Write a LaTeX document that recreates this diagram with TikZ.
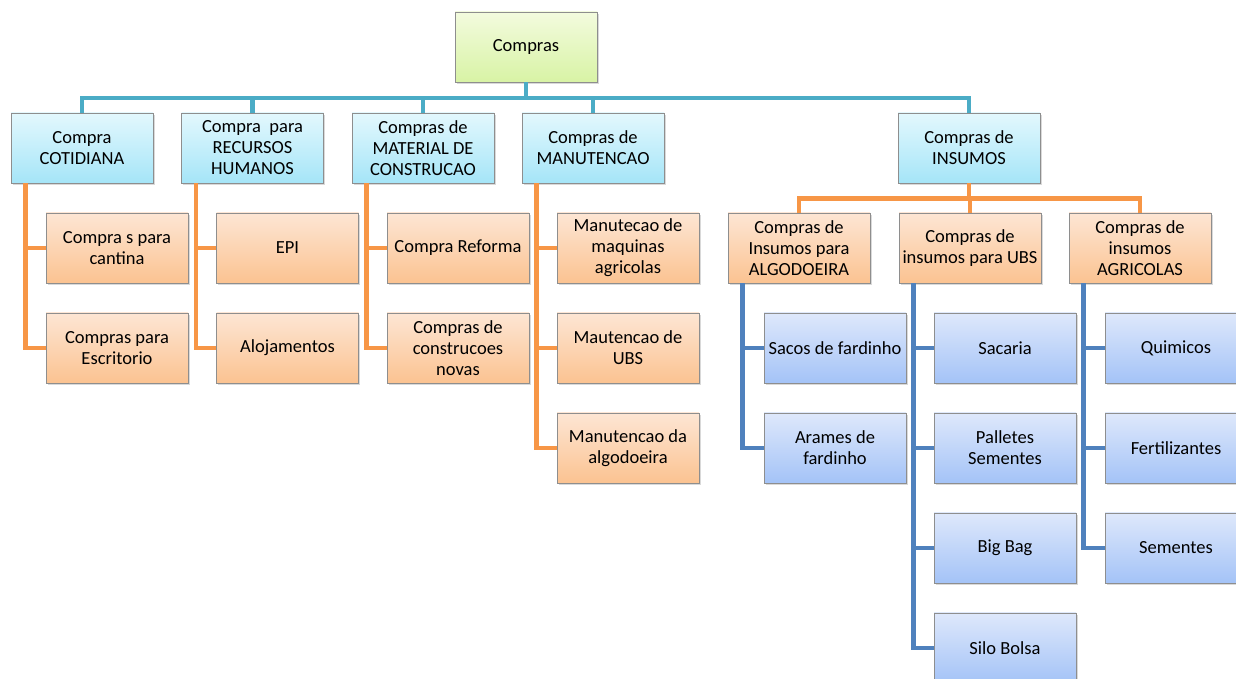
\documentclass[tikz,border=0pt]{standalone}
\usepackage{fontspec}
\setmainfont{Carlito}
\usetikzlibrary{shadows}

\definecolor{boxline}{HTML}{8E8E8E}
\definecolor{tealline}{HTML}{4BACC6}
\definecolor{orgline}{HTML}{F79646}
\definecolor{blueline}{HTML}{4F81BD}

\tikzstyle{box} = [rectangle, minimum width=142pt, minimum height=70pt, inner sep=2pt, align=center, draw=boxline, line width=0.9pt, font=\fontsize{18.5}{21}\selectfont, drop shadow={shadow xshift=1.5pt, shadow yshift=-2pt, opacity=0.3}]
\tikzstyle{root} = [box, top color={rgb,255:red,243;green,251;blue,222}, bottom color={rgb,255:red,216;green,243;blue,165}]
\tikzstyle{head} = [box, top color={rgb,255:red,227;green,248;blue,253}, bottom color={rgb,255:red,165;green,229;blue,248}]
\tikzstyle{sub} = [box, top color={rgb,255:red,253;green,230;blue,212}, bottom color={rgb,255:red,251;green,195;blue,145}]
\tikzstyle{leaf} = [box, top color={rgb,255:red,222;green,232;blue,251}, bottom color={rgb,255:red,164;green,195;blue,247}]
\tikzstyle{tealwire} = [line width=4.5pt, tealline]
\tikzstyle{orgwire} = [line width=4.5pt, orgline]
\tikzstyle{bluewire} = [line width=4.5pt, blueline]

\begin{document}
\begin{tikzpicture}[node distance=100pt]
\useasboundingbox (0pt,0pt) rectangle (1236pt,679pt);

% Nodes
\node (compras) [root] at (526pt,632pt) {Compras};
\node (cot) [head] at (82pt,531pt) {Compra\\COTIDIANA};
\node (rh) [head] at (252.5pt,531pt) {Compra\ \ para\\RECURSOS\\HUMANOS};
\node (mat) [head] at (423pt,531pt) {Compras de\\MATERIAL DE\\CONSTRUCAO};
\node (man) [head] at (593pt,531pt) {Compras de\\MANUTENCAO};
\node (ins) [head] at (969pt,531pt) {Compras de\\INSUMOS};

\node (cot1) [sub, below of=cot, xshift=35pt] {Compra s para\\cantina};
\node (cot2) [sub, below of=cot1] {Compras para\\Escritorio};
\node (rh1) [sub, below of=rh, xshift=35pt] {EPI};
\node (rh2) [sub, below of=rh1] {Alojamentos};
\node (mat1) [sub, below of=mat, xshift=35pt] {Compra Reforma};
\node (mat2) [sub, below of=mat1] {Compras de\\construcoes\\novas};
\node (man1) [sub, below of=man, xshift=35pt] {Manutecao de\\maquinas\\agricolas};
\node (man2) [sub, below of=man1] {Mautencao de\\UBS};
\node (man3) [sub, below of=man2] {Manutencao da\\algodoeira};

\node (algo) [sub, below of=ins, xshift=-170pt] {Compras de\\Insumos para\\ALGODOEIRA};
\node (ubs) [sub, below of=ins, xshift=1pt] {Compras de\\insumos para UBS};
\node (agri) [sub, below of=ins, xshift=171pt] {Compras de\\insumos\\AGRICOLAS};

\node (algo1) [leaf, below of=algo, xshift=36pt] {Sacos de fardinho};
\node (algo2) [leaf, below of=algo1] {Arames de\\fardinho};
\node (ubs1) [leaf, below of=ubs, xshift=35pt] {Sacaria};
\node (ubs2) [leaf, below of=ubs1] {Palletes\\Sementes};
\node (ubs3) [leaf, below of=ubs2] {Big Bag};
\node (ubs4) [leaf, below of=ubs3] {Silo Bolsa};
\node (agri1) [leaf, below of=agri, xshift=36pt] {Quimicos};
\node (agri2) [leaf, below of=agri1] {Fertilizantes};
\node (agri3) [leaf, below of=agri2] {Sementes};

% Connectors
\foreach \n in {cot,rh,mat,man,ins}
  \draw [tealwire] (compras.south) -- ++(0,-15.5pt) -| (\n.north);
\foreach \n in {algo,ubs,agri}
  \draw [orgwire] (ins.south) -- ++(0,-15pt) -| (\n.north);
\foreach \p/\c in {cot/cot1, cot/cot2, rh/rh1, rh/rh2, mat/mat1, mat/mat2, man/man1, man/man2, man/man3}
  \draw [orgwire] ([xshift=15pt]\p.south west) |- (\c.west);
\foreach \p/\c in {algo/algo1, algo/algo2, ubs/ubs1, ubs/ubs2, ubs/ubs3, ubs/ubs4, agri/agri1, agri/agri2, agri/agri3}
  \draw [bluewire] ([xshift=15pt]\p.south west) |- (\c.west);

\end{tikzpicture}
\end{document}
